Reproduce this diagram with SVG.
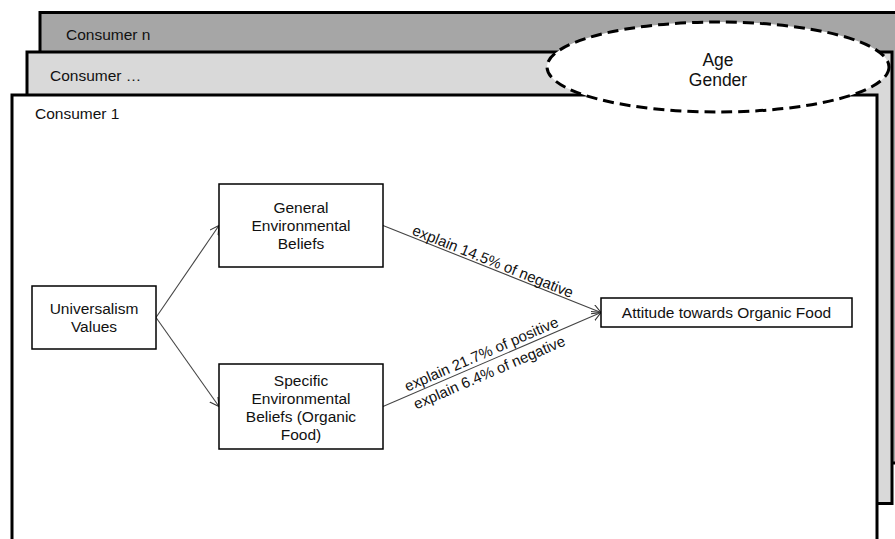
<svg xmlns="http://www.w3.org/2000/svg" width="895" height="539" viewBox="0 0 895 539">
<defs>
<style>
.layer{stroke:#000;stroke-width:3}
.node{fill:#fff;stroke:#000;stroke-width:1.5}
.t{font-family:"Liberation Sans",Arial,sans-serif;font-size:15.5px;fill:#111}
.c{text-anchor:middle}
.big{font-size:17.5px}
.lbl{font-family:"Liberation Sans",Arial,sans-serif;font-size:15px;fill:#111;text-anchor:middle}
.edge{stroke:#444;stroke-width:1.1;fill:none;marker-end:url(#arr)}
</style>
<marker id="arr" markerUnits="userSpaceOnUse" markerWidth="12" markerHeight="12" refX="9" refY="5" orient="auto">
<path d="M0,0 L9,5 L0,10" fill="none" stroke="#333" stroke-width="1.1"/>
</marker>
</defs>
<rect width="895" height="539" fill="#fff"/>
<g id="consumer-n">
<rect class="layer" x="40" y="12.5" width="870" height="450.5" fill="#a6a6a6"/>
<text class="t" x="66" y="40">Consumer n</text>
</g>
<g id="consumer-dots">
<rect class="layer" x="27" y="52" width="865" height="451.5" fill="#d9d9d9"/>
<text class="t" x="50" y="81">Consumer …</text>
</g>
<g id="consumer-1">
<rect class="layer" x="12" y="95" width="865" height="460" fill="#fff"/>
<text class="t" x="35" y="119">Consumer 1</text>
</g>
<g id="age-gender">
<ellipse cx="718" cy="67" rx="171" ry="45" fill="#fff" stroke="#000" stroke-width="3" stroke-dasharray="11,6"/>
<text class="t c big" x="718" y="66">Age</text>
<text class="t c big" x="718" y="86">Gender</text>
</g>
<g id="connectors">
<line class="edge" x1="156" y1="317.5" x2="219" y2="225.5"/>
<line class="edge" x1="156" y1="317.5" x2="219" y2="406.5"/>
<line class="edge" x1="383" y1="225.5" x2="601" y2="312.5"/>
<line class="edge" x1="383" y1="406.5" x2="601" y2="312.5"/>
<g transform="translate(490,269) rotate(21.8)">
<text class="lbl" x="0" y="-3">explain 14.5% of negative</text>
</g>
<g transform="translate(485,362.5) rotate(-23.3)">
<text class="lbl" x="0" y="-4">explain 21.7% of positive</text>
<text class="lbl" x="0" y="16">explain 6.4% of negative</text>
</g>
</g>
<g id="universalism">
<rect class="node" x="32" y="286" width="124" height="63"/>
<text class="t c" x="94" y="314">Universalism</text>
<text class="t c" x="94" y="332">Values</text>
</g>
<g id="general">
<rect class="node" x="219" y="184" width="164" height="83"/>
<text class="t c" x="301" y="213">General</text>
<text class="t c" x="301" y="231">Environmental</text>
<text class="t c" x="301" y="249">Beliefs</text>
</g>
<g id="specific">
<rect class="node" x="219" y="364" width="164" height="85"/>
<text class="t c" x="301" y="386">Specific</text>
<text class="t c" x="301" y="404">Environmental</text>
<text class="t c" x="301" y="422">Beliefs (Organic</text>
<text class="t c" x="301" y="440">Food)</text>
</g>
<g id="attitude">
<rect class="node" x="601" y="298" width="251" height="29"/>
<text class="t c" x="726.5" y="318">Attitude towards Organic Food</text>
</g>
</svg>
